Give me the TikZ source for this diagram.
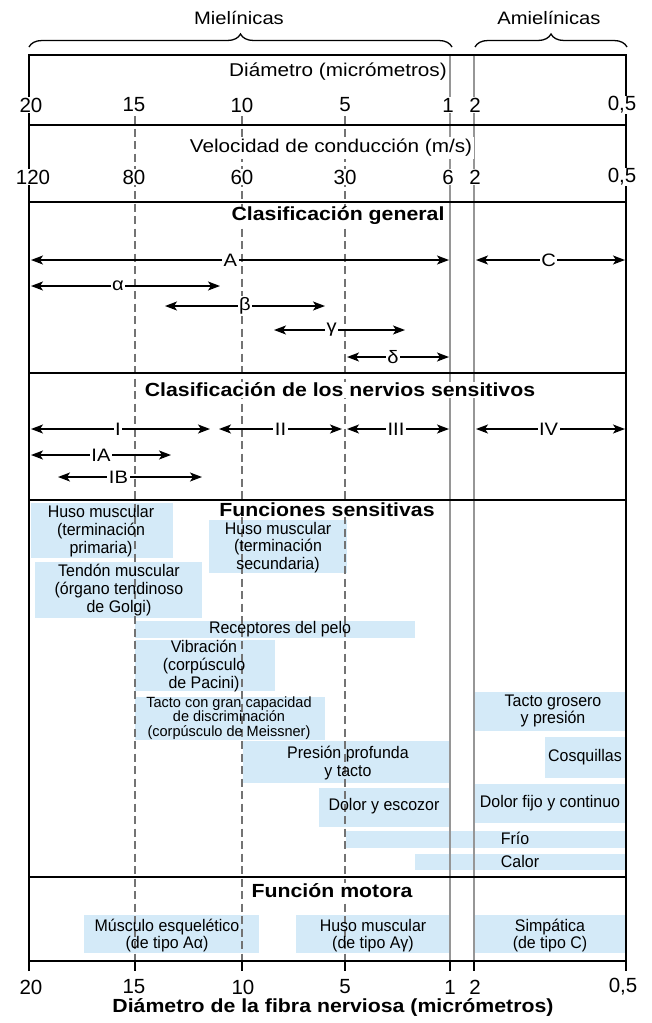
\documentclass[tikz,border=0pt]{standalone}
\usepackage{fontspec}
\setmainfont[FakeStretch=1.12]{Liberation Sans}
\newfontfamily\boxfont[FakeStretch=0.95]{Liberation Sans}
\newfontfamily\smallboxfont[FakeStretch=0.98]{Liberation Sans}
\newfontfamily\numfont{Liberation Sans}
\usetikzlibrary{arrows.meta,decorations.pathreplacing}
\definecolor{boxblue}{RGB}{212,234,248}
\definecolor{lgrey}{RGB}{150,150,150}
\definecolor{dgrey}{RGB}{115,115,115}
\begin{document}
\begin{tikzpicture}[x=1pt,y=-1pt,
  frame/.style={line width=2.2pt, black},
  gline/.style={line width=1.9pt, lgrey},
  dline/.style={line width=1.7pt, dgrey, dash pattern=on 8pt off 4.5pt},
  tick/.style={line width=2pt, black},
  ftxt/.style={inner sep=0pt, align=center, font=\boxfont\fontsize{16.8}{17.7}\selectfont},
  stxt/.style={inner sep=0pt, align=center, font=\smallboxfont\fontsize{14.8}{14.5}\selectfont},
  arr/.style={line width=1.6pt, {Stealth[length=12pt,width=9pt,inset=3pt]}-{Stealth[length=12pt,width=9pt,inset=3pt]}},
  albl/.style={fill=white, inner sep=1.5pt, font=\fontsize{18}{20}\selectfont},
  num/.style={fill=white, inner sep=1pt, font=\numfont\fontsize{20.5}{22}\selectfont},
  bnum/.style={inner sep=1pt, font=\numfont\fontsize{20.5}{22}\selectfont},
  axis/.style={fill=white, inner sep=2pt, font=\fontsize{18.5}{20}\selectfont},
  head/.style={fill=white, inner xsep=2pt, inner ysep=0.5pt, font=\bfseries\fontsize{19}{22}\selectfont},
  brc/.style={line width=1.3pt, decorate, decoration={brace, amplitude=13pt}},
]
\useasboundingbox (0,0) rectangle (652,1023);

% ---------- blue boxes ----------
\fill[boxblue] (31,503) rectangle (173,558);
\fill[boxblue] (209,520) rectangle (347,573);
\fill[boxblue] (35,562) rectangle (202,618);
\fill[boxblue] (135,621) rectangle (415,638);
\fill[boxblue] (135,640) rectangle (275,691);
\fill[boxblue] (135,697) rectangle (325,740);
\fill[boxblue] (474,692) rectangle (625,731);
\fill[boxblue] (545,737) rectangle (625,778);
\fill[boxblue] (243,741) rectangle (450,783);
\fill[boxblue] (319,788) rectangle (450,827);
\fill[boxblue] (474,784) rectangle (625,823);
\fill[boxblue] (346,831) rectangle (625,848);
\fill[boxblue] (415,854) rectangle (625,870);
\fill[boxblue] (84,915) rectangle (259,953);
\fill[boxblue] (296,915) rectangle (450,953);
\fill[boxblue] (474,915) rectangle (625,953);

% ---------- vertical guide lines ----------
\draw[gline] (450,55) -- (450,961);
\draw[gline] (474,55) -- (474,961);
\draw[dline] (135,116) -- (135,961);
\draw[dline] (242,116) -- (242,961);
\draw[dline] (345,116) -- (345,961);

% ---------- frame ----------
\draw[frame] (29,971) -- (29,55) -- (626,55) -- (626,971);
\foreach \yy in {125,202,373,500,877,961}
  \draw[frame] (29,\yy) -- (626,\yy);
\foreach \xx in {135,242,345,450,474}
  \draw[tick] (\xx,961) -- (\xx,971);

% ---------- braces ----------
\draw[brc] (29,47) -- (452,47);
\draw[brc] (475,47) -- (627,47);
\node[font=\fontsize{18}{20}\selectfont] (miel) at (239,18) {Mielínicas};
\node[font=\fontsize{18}{20}\selectfont] (amiel) at (549,18) {Amielínicas};

% ---------- box texts ----------
\node[ftxt] (f1) at (101,531) {Huso muscular\\(terminación\\primaria)};
\node[ftxt] (f2) at (278,547.5) {Huso muscular\\(terminación\\secundaria)};
\node[ftxt] (f3) at (119,590) {Tendón muscular\\(órgano tendinoso\\de Golgi)};
\node[ftxt] (f4) at (280,629.5) {Receptores del pelo};
\node[ftxt] (f5) at (204,666) {Vibración\\(corpúsculo\\de Pacini)};
\node[stxt] (f6) at (229,718) {Tacto con gran capacidad\\de discriminación\\(corpúsculo de Meissner)};
\node[ftxt] (f7) at (553,711) {Tacto grosero\\y presión};
\node[ftxt] (f8) at (585,757) {Cosquillas};
\node[ftxt] (f9) at (348,763) {Presión profunda\\y tacto};
\node[ftxt] (f10) at (384,806) {Dolor y escozor};
\node[ftxt] (f11) at (550,803) {Dolor fijo y continuo};
\node[ftxt] (f12) at (515,838.5) {Frío};
\node[ftxt] (f13) at (520,861.5) {Calor};
\node[ftxt] (m1) at (167,935.5) {Músculo esquelético\\(de tipo Aα)};
\node[ftxt] (m2) at (373,935.5) {Huso muscular\\(de tipo Aγ)};
\node[ftxt] (m3) at (550,935.5) {Simpática\\(de tipo C)};

% ---------- arrows: clasificación general ----------
\coordinate (A1) at (31,260);  \coordinate (A2) at (449,260);
\coordinate (C1) at (476,260); \coordinate (C2) at (625,260);
\coordinate (al1) at (31,286); \coordinate (al2) at (220,286);
\coordinate (be1) at (165,306); \coordinate (be2) at (325,306);
\coordinate (ga1) at (274,330); \coordinate (ga2) at (405,330);
\coordinate (de1) at (347,357); \coordinate (de2) at (449,357);
\draw[arr] (A1) -- node[albl,pos=.477] (lA) {A} (A2);
\draw[arr] (C1) -- node[albl,pos=.487] (lC) {C} (C2);
\draw[arr] (al1) -- node[albl,pos=.46] (lal) {α} (al2);
\draw[arr] (be1) -- node[albl,pos=.5] (lbe) {β} (be2);
\draw[arr] (ga1) -- node[albl,pos=.44] (lga) {γ} (ga2);
\draw[arr] (de1) -- node[albl,pos=.45] (lde) {δ} (de2);

% ---------- arrows: nervios sensitivos ----------
\coordinate (I1) at (31,429);   \coordinate (I2) at (210,429);
\coordinate (II1) at (219,429); \coordinate (II2) at (342,429);
\coordinate (III1) at (347,429); \coordinate (III2) at (449,429);
\coordinate (IV1) at (476,429); \coordinate (IV2) at (625,429);
\coordinate (IA1) at (31,455);  \coordinate (IA2) at (171,455);
\coordinate (IB1) at (58,477);  \coordinate (IB2) at (202,477);
\draw[arr] (I1) -- node[albl,pos=.486] (lI) {I} (I2);
\draw[arr] (II1) -- node[albl,pos=.5] (lII) {II} (II2);
\draw[arr] (III1) -- node[albl,pos=.48] (lIII) {III} (III2);
\draw[arr] (IV1) -- node[albl,pos=.487] (lIV) {IV} (IV2);
\draw[arr] (IA1) -- node[albl,pos=.5] (lIA) {IA} (IA2);
\draw[arr] (IB1) -- node[albl,pos=.42] (lIB) {IB} (IB2);

% ---------- headings ----------
\node[head] (h1) at (338,216) {Clasificación general};
\node[head] (h2) at (340,390) {Clasificación de los nervios sensitivos};
\node[head] (h3) at (327,510) {Funciones sensitivas};
\node[head] (h4) at (332,891) {Función motora};

% ---------- top scales ----------
\node[axis] (diam) at (338,72) {Diámetro (micrómetros)};
\node[axis] (vel) at (331,148) {Velocidad de conducción (m/s)};
\node[num] (d20) at (31,105) {20};
\node[num] (d15) at (134,105) {15};
\node[num] (d10) at (242,105) {10};
\node[num] (d5) at (345,105) {5};
\node[num] (d1) at (448,105) {1};
\node[num] (d2) at (475,105) {2};
\node[num] (d05) at (622,105) {0,5};
\node[num] (v120) at (33,177) {120};
\node[num] (v80) at (134,177) {80};
\node[num] (v60) at (242,177) {60};
\node[num] (v30) at (345,177) {30};
\node[num] (v6) at (448,177) {6};
\node[num] (v2) at (475,177) {2};
\node[num] (v05) at (622,177) {0,5};

% ---------- bottom scale ----------
\node[bnum] (b20) at (31,987) {20};
\node[bnum] (b15) at (134,987) {15};
\node[bnum] (b10) at (243,987) {10};
\node[bnum] (b5) at (345,987) {5};
\node[bnum] (b1) at (450,987) {1};
\node[bnum] (b2) at (475,987) {2};
\node[bnum] (b05) at (623,987) {0,5};
\node[font=\bfseries\fontsize{19}{22}\selectfont] (title) at (333,1007) {Diámetro de la fibra nerviosa (micrómetros)};
\end{tikzpicture}
\end{document}
